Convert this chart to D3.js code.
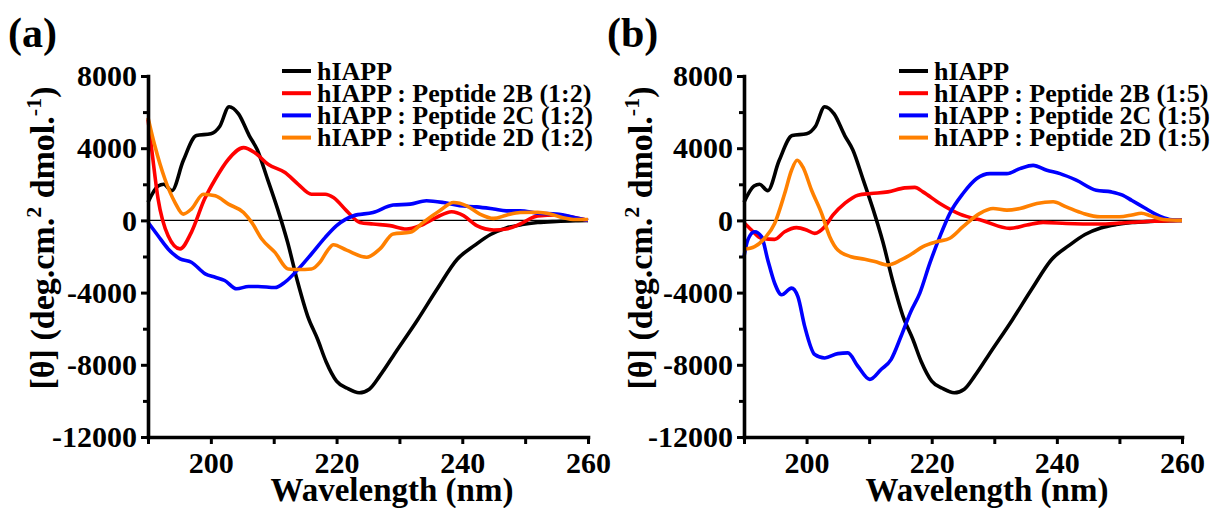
<!DOCTYPE html>
<html>
<head>
<meta charset="utf-8">
<script src="https://cdn.jsdelivr.net/npm/d3@7"></script>
<style>
  body { margin: 0; background: #fff; }
  text { font-family: "Liberation Serif", "Times New Roman", serif; font-weight: bold; }
</style>
</head>
<body>
<div id="viz-container"></div>
<script>
// hIAPP alone (same trace in both panels)
let hiappWl  = [190, 191.6, 192.5, 193.8, 195.6, 197.7, 200, 201.4, 202.9, 204.4, 206.1, 207.4, 209, 210.6, 212.2, 213.8, 215.4, 217, 218.3, 220, 221.7, 223.6, 225.2, 226.9, 229.4, 232.9, 236, 239.2, 241.9, 244.5, 247, 249.5, 252, 255, 258, 260];
let hiappVal = [1000, 1900, 2000, 1650, 3300, 4700, 4800, 5200, 6300, 5900, 4700, 3900, 2300, 650, -1200, -3400, -5300, -6600, -7800, -8900, -9300, -9550, -9350, -8600, -7300, -5500, -3800, -2150, -1400, -780, -420, -230, -120, -60, -20, 0];

// panel (a) 1:2
let a2bWl  = [190, 190.6, 191.6, 193.2, 195.1, 196.9, 199, 200.7, 202.8, 205.2, 207, 209.1, 211.8, 213.9, 216, 218.2, 219.5, 221.6, 223.7, 225.8, 228.5, 231.1, 233.3, 235.9, 238.3, 240.2, 242.3, 245, 247, 249.2, 252, 255, 258, 260];
let a2bVal = [5600, 3900, 1200, -850, -1580, -660, 1180, 2280, 3390, 4030, 3750, 3110, 2650, 2000, 1450, 1450, 1270, 530, -110, -200, -290, -480, -290, 170, 480, 260, -290, -530, -480, -200, 250, 300, 150, 0];

let a2cWl  = [190, 191.6, 193.2, 195.1, 196.9, 199.1, 200.7, 202.2, 204.1, 206, 207.5, 210.2, 211.8, 213.9, 216, 218.2, 220, 222.7, 225.8, 229, 231.7, 234.3, 237, 239.6, 242.3, 245, 247, 249.2, 252, 255, 258, 260];
let a2cVal = [-100, -850, -1580, -2130, -2320, -2960, -3150, -3330, -3790, -3660, -3660, -3720, -3420, -2700, -1860, -940, -290, 260, 440, 850, 900, 1090, 990, 810, 750, 630, 530, 530, 400, 350, 150, 0];

let a2dWl  = [190, 191.1, 192.7, 194.3, 195.6, 196.9, 198.8, 200.7, 202.8, 205.2, 206.5, 208.1, 210.2, 212.3, 213.9, 216, 217.4, 218.5, 219.5, 221.6, 224.8, 226.9, 229, 231.7, 233.8, 236.4, 238.6, 240.7, 242.8, 245, 247, 249.2, 252, 254, 256, 258, 260];
let a2dVal = [5700, 4120, 2280, 990, 350, 630, 1450, 1360, 900, 440, -110, -1030, -1770, -2690, -2720, -2690, -2300, -1700, -1350, -1650, -2040, -1580, -750, -660, -110, 530, 990, 810, 350, 110, 290, 440, 450, 350, 150, 50, 50];

// panel (b) 1:5
let b2bWl  = [190, 191.2, 192.8, 194.9, 196.5, 198.4, 200, 201.3, 202.9, 204.2, 206.1, 208.2, 210.3, 213, 215.7, 217.3, 218.6, 221.3, 224.5, 228.2, 232.5, 235.2, 237.8, 241.5, 246.9, 250, 255, 260];
let b2bVal = [-130, -530, -990, -1050, -630, -400, -530, -720, -350, 290, 940, 1400, 1490, 1580, 1800, 1830, 1580, 940, 350, -20, -440, -260, -110, -170, -200, -150, -50, 0];

let b2cWl  = [190, 190.6, 191.7, 192.8, 193.8, 194.9, 196, 197.6, 198.6, 199.7, 201.3, 202.9, 205, 206.6, 208.2, 210.1, 211.9, 213.5, 215.1, 216.6, 218.1, 219.7, 221.3, 222.9, 225, 227.2, 229.3, 232, 234.1, 236.2, 238.4, 240.5, 243.1, 246.3, 248.7, 250.5, 252, 254, 256, 258, 260];
let b2cVal = [-2000, -1090, -630, -900, -2190, -3480, -4120, -3750, -4210, -5870, -7430, -7620, -7380, -7340, -8080, -8810, -8260, -7710, -6420, -5100, -4030, -2370, -900, 390, 1490, 2320, 2590, 2590, 2870, 3050, 2780, 2590, 2230, 1670, 1580, 1400, 1100, 700, 300, 50, 0];

let b2dWl  = [190, 191.7, 193.3, 194.9, 196.5, 197.6, 198.5, 199.4, 200.8, 202.4, 203.7, 205, 207.1, 209.3, 210.9, 213, 215.1, 216.6, 218.6, 220.8, 222.9, 225, 227.7, 229.8, 232, 234.1, 236.8, 239.4, 241.5, 244.2, 246.9, 250, 252, 253.5, 255, 257, 260];
let b2dVal = [-1600, -1450, -990, -170, 1490, 2780, 3330, 2960, 1670, 390, -900, -1640, -2010, -2150, -2280, -2470, -2190, -1900, -1450, -1180, -990, -350, 390, 660, 570, 660, 940, 1030, 750, 390, 200, 200, 300, 400, 250, 50, 0];

let xMajor = [200, 220, 240, 260];
let xMinor = [190, 210, 230, 250];
let yMajor = [-12000, -8000, -4000, 0, 4000, 8000];
let yMinor = [-10000, -6000, -2000, 2000, 6000];

let colors = ["#000000", "#ff0000", "#0000ff", "#ff8000"];
let namesA = ["hIAPP", "hIAPP : Peptide 2B (1:2)", "hIAPP : Peptide 2C (1:2)", "hIAPP : Peptide 2D (1:2)"];
let namesB = ["hIAPP", "hIAPP : Peptide 2B (1:5)", "hIAPP : Peptide 2C (1:5)", "hIAPP : Peptide 2D (1:5)"];

let viz = d3.select("#viz-container")
  .append("svg")
  .attr("width", 1217)
  .attr("height", 508)
;

function zip(wl, val){
  return wl.map((w, i) => ({w: w, v: val[i]}));
}

function drawPanel(p){
  let x = d3.scaleLinear().domain([190, 260]).range([p.left, p.right]);
  let y = d3.scaleLinear().domain([-12000, 8000]).range([437, 76]);
  let g = viz.append("g");

  // zero line
  g.append("line")
    .attr("x1", x(190)).attr("x2", x(260))
    .attr("y1", y(0)).attr("y2", y(0))
    .attr("stroke", "black").attr("stroke-width", 1.3);

  // curves, drawn black, red, blue, orange
  let line = d3.line().x(d => x(d.w)).y(d => y(d.v)).curve(d3.curveMonotoneX);
  p.series.forEach((s, i) => {
    g.append("path")
      .datum(zip(s[0], s[1]))
      .attr("d", line)
      .attr("fill", "none")
      .attr("stroke", colors[i])
      .attr("stroke-width", 3.6)
      .attr("stroke-linejoin", "round");
  });

  // axes
  g.append("g").attr("transform", "translate(0,437)")
    .call(d3.axisBottom(x).tickValues(xMajor).tickSize(7).tickSizeOuter(0).tickPadding(8).tickFormat(d => d));
  g.append("g").attr("transform", "translate(0,437)")
    .call(d3.axisBottom(x).tickValues(xMinor).tickSize(7).tickSizeOuter(0).tickFormat(""))
    .select(".domain").remove();
  g.append("g").attr("transform", "translate(" + p.left + ",0)")
    .call(d3.axisLeft(y).tickValues(yMajor).tickSize(7).tickSizeOuter(0).tickPadding(4).tickFormat(d => String(d)));
  g.append("g").attr("transform", "translate(" + p.left + ",0)")
    .call(d3.axisLeft(y).tickValues(yMinor).tickSize(5).tickSizeOuter(0).tickFormat(""))
    .select(".domain").remove();

  g.selectAll(".domain").attr("stroke", "black").attr("stroke-width", 3.6).attr("stroke-linecap", "square");
  g.selectAll(".tick line").attr("stroke", "black").attr("stroke-width", 3);
  g.selectAll(".tick text").attr("fill", "black").style("font-size", "30px")
    .style("font-family", "'Liberation Serif', serif").style("font-weight", "bold");

  // axis titles
  g.append("text")
    .attr("x", p.xTitle).attr("y", 501)
    .attr("text-anchor", "middle")
    .style("font-size", "33px")
    .text("Wavelength (nm)");

  let yt = g.append("text")
    .attr("transform", "translate(" + p.yTitle + ",238) rotate(-90)")
    .attr("text-anchor", "middle")
    .style("font-size", "34px");
  yt.append("tspan").text("[\u03b8] (deg.cm.");
  yt.append("tspan").attr("dy", -13).style("font-size", "22px").text("2");
  yt.append("tspan").attr("dy", 13).text(" dmol.");
  yt.append("tspan").attr("dy", -13).style("font-size", "22px").text("-1");
  yt.append("tspan").attr("dy", 13).text(")");

  // panel tag
  g.append("text").attr("x", p.tagX).attr("y", 47).style("font-size", "42px").text(p.tag);

  // legend
  p.names.forEach((n, i) => {
    let ly = 71 + i * 22.2;
    g.append("line")
      .attr("x1", p.legX).attr("x2", p.legX + 29)
      .attr("y1", ly).attr("y2", ly)
      .attr("stroke", colors[i]).attr("stroke-width", 4);
    g.append("text")
      .attr("x", p.legX + 35).attr("y", ly + 8.5)
      .style("font-size", "26px")
      .text(n);
  });
}

drawPanel({
  left: 148, right: 588, xTitle: 392, yTitle: 54, tag: "(a)", tagX: 8, legX: 282, names: namesA,
  series: [[hiappWl, hiappVal], [a2bWl, a2bVal], [a2cWl, a2cVal], [a2dWl, a2dVal]]
});
drawPanel({
  left: 744, right: 1182, xTitle: 987, yTitle: 652, tag: "(b)", tagX: 607, legX: 899, names: namesB,
  series: [[hiappWl, hiappVal], [b2bWl, b2bVal], [b2cWl, b2cVal], [b2dWl, b2dVal]]
});
</script>
</body>
</html>
